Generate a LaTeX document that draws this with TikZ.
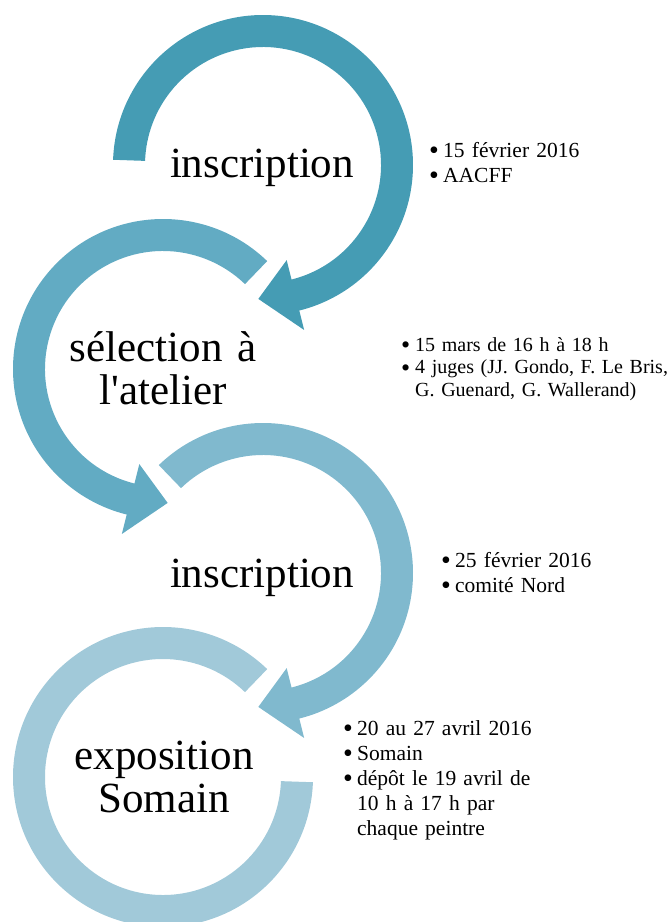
\documentclass[tikz,border=0pt]{standalone}
\usepackage{fontspec}
\usepackage{graphicx}
\setmainfont{Liberation Serif}
\usetikzlibrary{calc}
\definecolor{cA}{RGB}{69,156,180}
\definecolor{cB}{RGB}{98,171,195}
\definecolor{cC}{RGB}{128,185,206}
\definecolor{cD}{RGB}{161,201,217}
\newcommand\bul{\makebox[12pt][l]{\hspace{-2pt}\raisebox{-2.7pt}{\scalebox{1.3}{•}}}}
\newcommand\cont{\hspace*{12pt}}
\begin{document}
\begin{tikzpicture}[x=1pt,y=-1pt,
  title/.style={font=\fontsize{43}{43}\selectfont, align=center, anchor=base, inner sep=0pt, text width=240pt},
  bullets/.style={font=\fontsize{21.5}{25}\selectfont, align=left, anchor=base west, inner sep=0pt, text width=300pt},
  bulletsB/.style={bullets, font=\fontsize{20}{22.5}\selectfont},
]
\useasboundingbox (0,0) rectangle (669,922);
\coordinate (c1) at (263,165);
\coordinate (c2) at (163,369);
\coordinate (c3) at (263,573);
\coordinate (c4) at (163,777);
% arrow 1
\fill[cA] ([shift={(c1)}]-178:150) arc[start angle=-178, end angle=76, radius=150]
  -- ([shift={(c1)}]76:170) -- ([shift={(c1)}]92:134) -- ([shift={(c1)}]76:98)
  -- ([shift={(c1)}]76:118) arc[start angle=76, end angle=-178, radius=118] -- cycle;
% arrow 2
\fill[cB] ([shift={(c2)}]-46:150) arc[start angle=-46, end angle=-256, radius=150]
  -- ([shift={(c2)}]-256:170) -- ([shift={(c2)}]-272:134) -- ([shift={(c2)}]-256:98)
  -- ([shift={(c2)}]-256:118) arc[start angle=-256, end angle=-46, radius=118] -- cycle;
% arrow 3
\fill[cC] ([shift={(c3)}]-134:150) arc[start angle=-134, end angle=76, radius=150]
  -- ([shift={(c3)}]76:170) -- ([shift={(c3)}]92:134) -- ([shift={(c3)}]76:98)
  -- ([shift={(c3)}]76:118) arc[start angle=76, end angle=-134, radius=118] -- cycle;
% arc 4
\fill[cD] ([shift={(c4)}]-46:150) arc[start angle=-46, end angle=-358, radius=150]
  -- ([shift={(c4)}]-358:118) arc[start angle=-358, end angle=-46, radius=118] -- cycle;
% titles
\node[title] (t1) at (262,177) {inscription};
\node[title] (t2) at (163,361) {sélection à\\l\textquotesingle atelier};
\node[title] (t3) at (262,587) {inscription};
\node[title] (t4) at (164,769) {exposition\\Somain};
% lists
\node[bullets] (l1) at (431,157) {\bul 15 février 2016\\\bul AACFF};
\node[bulletsB] (l2) at (403,351) {\bul 15 mars de 16 h à 18 h\\\bul 4 juges (JJ. Gondo, F. Le Bris,\\\cont G. Guenard, G. Wallerand)};
\node[bullets] (l3) at (443,567) {\bul 25 février 2016\\\bul comité Nord};
\node[bullets] (l4) at (345,735) {\bul 20 au 27 avril 2016\\\bul Somain\\\bul dépôt le 19 avril de\\\cont 10 h à 17 h par\\\cont chaque peintre};
\end{tikzpicture}
\end{document}
